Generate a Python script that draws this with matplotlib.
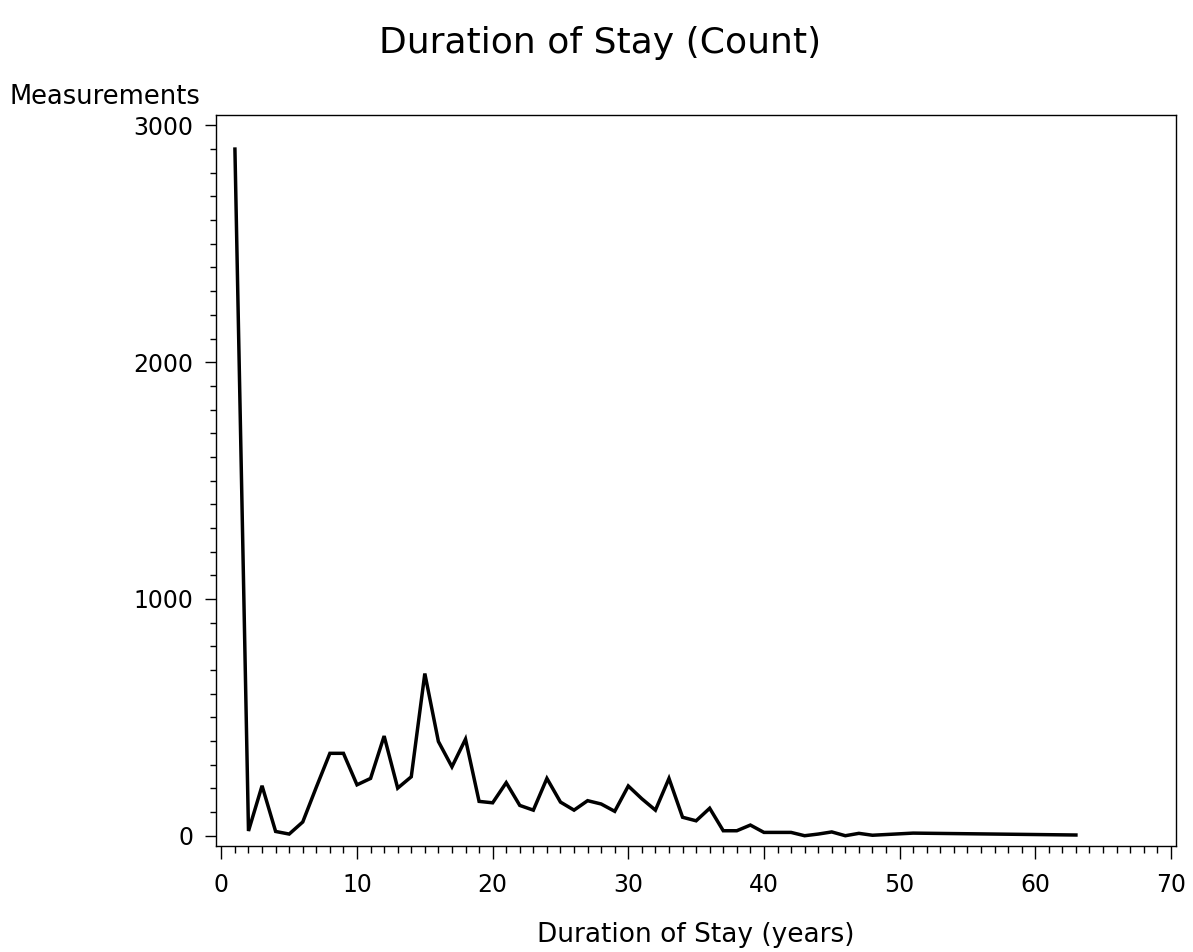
import matplotlib
matplotlib.use("Agg")
import matplotlib.pyplot as plt
from matplotlib.ticker import MultipleLocator

# duration of stay (years) and number of measurements
years = [1, 2, 3, 4, 5, 6, 7, 8, 9, 10,
         11, 12, 13, 14, 15, 16, 17, 18, 19, 20,
         21, 22, 23, 24, 25, 26, 27, 28, 29, 30,
         31, 32, 33, 34, 35, 36, 37, 38, 39, 40,
         41, 42, 43, 44, 45, 46, 47, 48, 51, 63]
counts = [2900, 20, 211, 18, 7, 58, 205, 348, 348, 215,
          242, 421, 201, 249, 685, 398, 291, 408, 145, 139,
          224, 128, 108, 242, 142, 108, 148, 134, 103, 210,
          156, 108, 242, 78, 63, 116, 21, 21, 45, 14,
          14, 14, 0, 7, 16, 0, 10, 2, 11, 3]

plt.rcParams['font.family'] = ['DejaVu Sans']

fig = plt.figure(figsize=(11.93, 9.52), dpi=100)
ax = fig.add_axes([0.181, 0.1117, 0.805, 0.768])

ax.plot(years, counts, color='black', linewidth=2.5, solid_joinstyle='miter')

ax.set_xlim(-0.4, 70.4)
ax.set_ylim(-42, 3046)
ax.xaxis.set_major_locator(MultipleLocator(10))
ax.xaxis.set_minor_locator(MultipleLocator(1))
ax.yaxis.set_major_locator(MultipleLocator(1000))
ax.yaxis.set_minor_locator(MultipleLocator(100))

ax.tick_params(axis='x', which='major', length=9, width=1, labelsize=17, pad=11)
ax.tick_params(axis='x', which='minor', length=5, width=1)
ax.tick_params(axis='y', which='major', length=8, width=1, labelsize=17, pad=8)
ax.tick_params(axis='y', which='minor', length=4, width=1)
for s in ax.spines.values():
    s.set_linewidth(1)

ax.set_xlabel('Duration of Stay (years)', fontsize=19, labelpad=18)
fig.text(0.008, 0.898, 'Measurements', fontsize=18.5, ha='left', va='center')
fig.text(0.503, 0.955, 'Duration of Stay (Count)', fontsize=26, ha='center', va='center')

fig.savefig('out.png', dpi=100)
